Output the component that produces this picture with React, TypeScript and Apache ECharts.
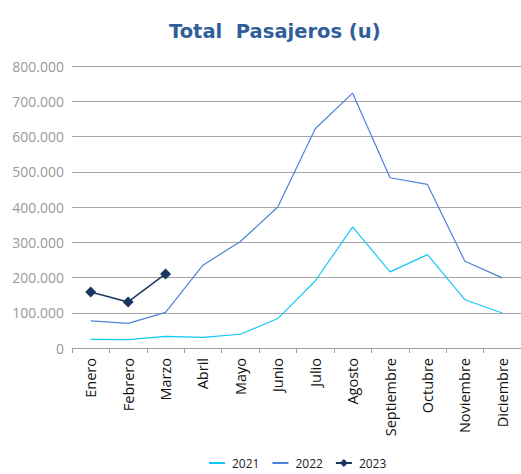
import React, { useEffect, useRef } from "react";
import * as echarts from "echarts";

const months = ["Enero", "Febrero", "Marzo", "Abril", "Mayo", "Junio", "Julio", "Agosto", "Septiembre", "Octubre", "Noviembre", "Diciembre"];
const s2021 = [24700, 24000, 33000, 30000, 39000, 83500, 190000, 343600, 216000, 265000, 137000, 99400];
const s2022 = [76700, 70000, 101000, 235000, 302000, 400000, 622000, 723000, 483000, 464000, 246000, 199000];
const s2023 = [159000, 130600, 210000];

const fmt = (v: number) => (v === 0 ? "0" : String(v).replace(/\B(?=(\d{3})+(?!\d))/g, "."));

export default function App() {
  const ref = useRef<HTMLDivElement>(null);
  useEffect(() => {
    const chart = echarts.init(ref.current!, null, { renderer: "svg" });
    chart.setOption({
      animation: false,
      backgroundColor: "#ffffff",
      title: {
        text: "Total  Pasajeros (u)",
        left: 164,
        top: 16,
        textStyle: { fontFamily: "DejaVu Sans", fontWeight: "bold", fontSize: 19.5, color: "#2F5E9A" },
      },
      legend: {
        bottom: 0,
        left: 203,
        itemWidth: 16,
        itemHeight: 10,
        itemGap: 12,
        textStyle: { fontFamily: "Open Sans", fontSize: 12, color: "#222", padding: [0, 0, 0, 2] },
        data: [
          { name: "2021", itemStyle: { opacity: 0 } },
          { name: "2022", itemStyle: { opacity: 0 } },
          { name: "2023" },
        ],
      },
      grid: { left: 72, right: -8, top: 66, bottom: 126, containLabel: false },
      xAxis: {
        type: "category",
        data: months,
        boundaryGap: true,
        axisLine: { lineStyle: { color: "#a0a0a0", width: 1 } },
        axisTick: { show: true, length: 5, lineStyle: { color: "#a0a0a0" } },
        axisLabel: { rotate: 90, color: "#111", fontFamily: "Open Sans", fontSize: 14.5, margin: 10 },
      },
      yAxis: {
        type: "value",
        min: 0,
        max: 800000,
        interval: 100000,
        axisLine: { show: false },
        axisTick: { show: false },
        splitLine: { lineStyle: { color: "#a6a6a6", width: 1 } },
        axisLabel: { color: "#9a9a9a", fontFamily: "Open Sans", fontSize: 14, margin: 8, formatter: fmt },
      },
      series: [
        { name: "2021", type: "line", data: s2021, symbol: "none", lineStyle: { color: "#12C8F5", width: 1.2 }, itemStyle: { color: "#12C8F5" } },
        { name: "2022", type: "line", data: s2022, symbol: "none", lineStyle: { color: "#4E82D6", width: 1.2 }, itemStyle: { color: "#4E82D6" } },
        { name: "2023", type: "line", data: s2023, symbol: "diamond", symbolSize: 11, lineStyle: { color: "#1B365F", width: 1.5 }, itemStyle: { color: "#1B365F" } },
      ],
    });
    return () => chart.dispose();
  }, []);
  return <div ref={ref} style={{ position: "fixed", left: 0, top: 0, width: 521, height: 474 }} />;
}
